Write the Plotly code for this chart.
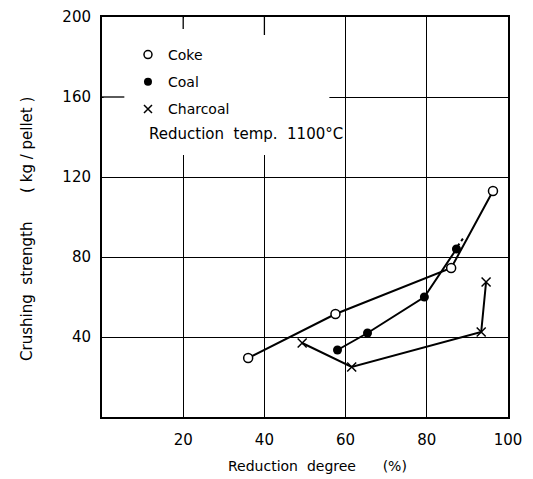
import plotly.graph_objects as go

coke_x = [36, 57.5, 86, 96.3]
coke_y = [29.5, 51.5, 74.5, 113]
coal_x = [58, 65.4, 79.4, 87.3]
coal_y = [33.5, 42, 60, 84]
coal_ext_x = [87.6, 89.2]
coal_ext_y = [85.5, 90]
char_x = [49.3, 61.5, 93.4, 94.6]
char_y = [37, 25, 42.5, 67.5]

x_ticks = [20, 40, 60, 80, 100]
y_ticks = [40, 80, 120, 160, 200]

FONT = "DejaVu Sans"
fig = go.Figure()

line = dict(color="black", width=2)
fig.add_trace(go.Scatter(x=coke_x, y=coke_y, mode="lines+markers", line=line, showlegend=False,
                         marker=dict(symbol="circle", size=9, color="white", line=dict(color="black", width=1.5))))
fig.add_trace(go.Scatter(x=coal_x, y=coal_y, mode="lines+markers", line=line, showlegend=False,
                         marker=dict(symbol="circle", size=9, color="black")))
fig.add_trace(go.Scatter(x=coal_ext_x, y=coal_ext_y, mode="lines", line=dict(color="black", width=2, dash="3px,3px"),
                         showlegend=False))
fig.add_trace(go.Scatter(x=char_x, y=char_y, mode="lines+markers", line=line, showlegend=False,
                         marker=dict(symbol="x-thin", size=9, color="black", line=dict(color="black", width=1.5))))

# legend-only entries (markers only)
fig.add_trace(go.Scatter(x=[None], y=[None], mode="markers", name="Coke", legendgroup="a",
                         marker=dict(symbol="circle", size=8, color="white", line=dict(color="black", width=1.5))))
fig.add_trace(go.Scatter(x=[None], y=[None], mode="markers", name="Coal", legendgroup="b",
                         marker=dict(symbol="circle", size=8, color="black")))
fig.add_trace(go.Scatter(x=[None], y=[None], mode="markers", name="Charcoal", legendgroup="c",
                         marker=dict(symbol="x-thin", size=8, color="black", line=dict(color="black", width=1.5))))

shapes = [
    # blank region behind legend (covers gridlines)
    dict(type="rect", xref="x", yref="y", x0=0.4, x1=56, y0=131, y1=199.4, fillcolor="white",
         line=dict(width=0), layer="between"),
    # short tick remnants
    dict(type="line", xref="x", yref="y", x0=0, x1=5.5, y0=160, y1=160, line=dict(color="black", width=1.3)),
    dict(type="line", xref="x", yref="y", x0=20, x1=20, y0=200, y1=194, line=dict(color="black", width=1.3)),
    dict(type="line", xref="x", yref="y", x0=40, x1=40, y0=200, y1=191, line=dict(color="black", width=1.3)),
]

# page body has an 8px margin, so the figure is sized/offset to compensate
fig.update_layout(
    width=525, height=471,
    margin=dict(l=94, r=25, t=9, b=62),
    paper_bgcolor="white", plot_bgcolor="white",
    font=dict(family=FONT, color="black", size=14),
    shapes=shapes,
    legend=dict(x=0.064, y=0.945, xanchor="left", yanchor="top", bgcolor="rgba(0,0,0,0)",
                font=dict(size=14, family=FONT), tracegroupgap=6, itemwidth=30),
    annotations=[
        dict(text="Reduction  temp.  1100°C", xref="paper", yref="paper", x=0.111, y=0.708,
             xanchor="left", yanchor="middle", showarrow=False, font=dict(size=15, family=FONT)),
        dict(text="Crushing  strength      ( kg / pellet )", xref="paper", yref="paper", x=-0.185, y=0.47,
             textangle=-90, xanchor="center", yanchor="middle", showarrow=False, font=dict(size=15, family=FONT)),
        dict(text="Reduction  degree      (%)", xref="paper", yref="paper", x=0.53, y=-0.122,
             xanchor="center", yanchor="middle", showarrow=False, font=dict(size=14, family=FONT)),
    ],
)
fig.update_xaxes(range=[0, 100], tickvals=x_ticks, ticktext=[str(v) for v in x_ticks], showgrid=True,
                 gridcolor="black", gridwidth=1.3, showline=True, linecolor="black", linewidth=2, mirror=True,
                 zeroline=False, ticks="", tickfont=dict(size=15), automargin=False, ticklabelstandoff=8,
                 ticklabeloverflow="allow")
fig.update_yaxes(range=[0, 200], tickvals=y_ticks, ticktext=[str(v) for v in y_ticks], showgrid=True,
                 gridcolor="black", gridwidth=1.3, showline=True, linecolor="black", linewidth=2, mirror=True,
                 zeroline=False, ticks="", tickfont=dict(size=15), ticklabelstandoff=6, automargin=False,
                 ticklabeloverflow="allow")

fig.write_html("out.html")
